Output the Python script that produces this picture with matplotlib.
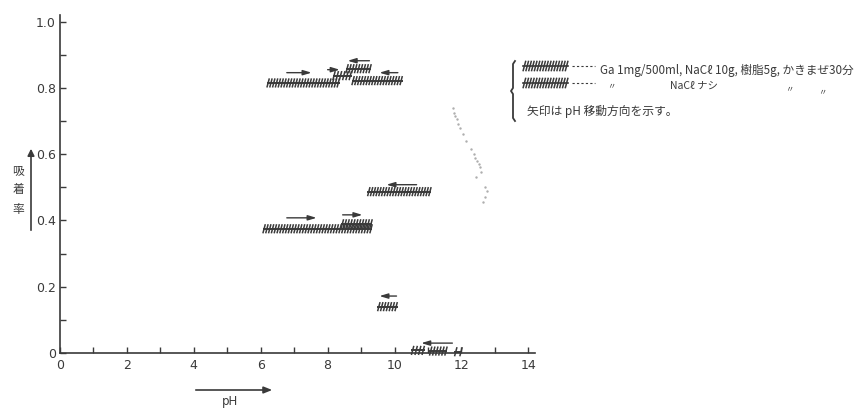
import matplotlib
matplotlib.use("Agg")
import matplotlib.pyplot as plt
from matplotlib import patheffects as pe
from matplotlib.lines import Line2D

plt.rcParams['font.family'] = ['Noto Sans CJK JP', 'DejaVu Sans']

# ---------------- data ----------------
# Hatched (zig-zag) segments: start pH, end pH, adsorption rate
seg_start = [6.18, 8.15, 8.54, 8.72, 6.06, 8.40, 9.19, 9.49, 10.50, 11.04, 11.79]
seg_end   = [8.36, 8.72, 9.31, 10.24, 9.34, 9.34, 11.10, 10.09, 10.90, 11.58, 12.03]
seg_value = [0.815, 0.837, 0.858, 0.822, 0.375, 0.390, 0.487, 0.140, 0.008, 0.006, 0.004]

# Arrows showing direction of pH change: from pH, to pH, level
arrow_from  = [6.78, 8.00, 9.25, 10.10, 6.78, 8.45, 10.66, 10.06, 11.73]
arrow_to    = [7.52, 8.36, 8.60, 9.55, 7.67, 9.04, 9.76, 9.55, 10.80]
arrow_level = [0.846, 0.855, 0.882, 0.846, 0.408, 0.417, 0.508, 0.172, 0.030]

# faint scattered points (pH 12 region)
faint_ph  = [11.75, 11.78, 11.82, 11.86, 11.90, 11.95, 12.05, 12.15, 12.30, 12.38, 12.42,
             12.48, 12.52, 12.56, 12.60, 12.45, 12.70, 12.78, 12.72, 12.66]
faint_val = [0.740, 0.725, 0.715, 0.705, 0.690, 0.680, 0.660, 0.640, 0.615, 0.600, 0.590,
             0.580, 0.570, 0.560, 0.545, 0.530, 0.500, 0.490, 0.470, 0.455]

x_ticks = [0, 2, 4, 6, 8, 10, 12, 14]
x_ticklabels = ["0", "2", "4", "6", "8", "10", "12", "14"]
y_ticks = [0, 0.2, 0.4, 0.6, 0.8, 1.0]
y_ticklabels = ["0", "0.2", "0.4", "0.6", "0.8", "1.0"]

legend_lines = ["Ga 1mg/500ml, NaCℓ 10g, 樹脂5g, かきまぜ30分",
                "NaCℓ ナシ"]
note_text = "矢印は pH 移動方向を示す。"

INK = "#3a3a3a"
W, H = 861, 408

fig = plt.figure(figsize=(W / 100, H / 100), dpi=100)
ax = fig.add_axes([60 / W, 1 - 363 / H, (535 - 60) / W, (363 - 15) / H])
ax.set_xlim(0, 14.2)
ax.set_ylim(-0.03, 1.02)

zig = [pe.TickedStroke(spacing=2.0, angle=75, length=1.7, linewidth=1.1, foreground=INK),
       pe.TickedStroke(spacing=2.0, angle=-105, length=1.7, linewidth=1.1, foreground=INK),
       pe.Normal()]

for x0, x1, v in zip(seg_start, seg_end, seg_value):
    ax.plot([x0, x1], [v, v], color=INK, lw=1.4, solid_capstyle='butt', path_effects=zig, zorder=3)

for a0, a1, lv in zip(arrow_from, arrow_to, arrow_level):
    ax.annotate("", xy=(a1, lv), xytext=(a0, lv),
                arrowprops=dict(arrowstyle="-|>,head_length=0.5,head_width=0.15",
                                color=INK, lw=1.0, shrinkA=0, shrinkB=0))

ax.scatter(faint_ph, faint_val, s=3, color="#9a9a9a", alpha=0.8, linewidths=0, zorder=2)

# axes styling
for s in ["top", "right"]:
    ax.spines[s].set_visible(False)
ax.spines["bottom"].set_position(("data", 0))
ax.spines["left"].set_bounds(0, 1.02)
for s in ["left", "bottom"]:
    ax.spines[s].set_color(INK)
    ax.spines[s].set_linewidth(1.2)

ax.set_xticks(x_ticks)
ax.set_xticklabels(x_ticklabels)
ax.set_xticks(range(0, 15), minor=True)
ax.set_yticks(y_ticks)
ax.set_yticklabels(y_ticklabels)
ax.set_yticks([i / 10 for i in range(0, 11)], minor=True)
ax.tick_params(axis="both", which="both", direction="in", length=4, width=1, color=INK,
               labelsize=9, labelcolor=INK)
ax.tick_params(axis="x", which="major", pad=4)
ax.tick_params(axis="y", which="major", pad=3)
for lab in ax.get_xticklabels() + ax.get_yticklabels():
    lab.set_family("DejaVu Sans")

# y label: stacked characters with upward arrow
fig.text(18 / W, 1 - 190 / H, "吸\n着\n率", ha="center", va="center", fontsize=8.5,
         color=INK, linespacing=1.6)
fig.add_artist(matplotlib.patches.FancyArrowPatch(
    (31 / W, 1 - 233 / H), (31 / W, 1 - 146 / H), transform=fig.transFigure,
    arrowstyle="-|>,head_length=4,head_width=2", color=INK, lw=1.2))

# x label with right arrow
fig.add_artist(matplotlib.patches.FancyArrowPatch(
    (193 / W, 1 - 390 / H), (275 / W, 1 - 390 / H), transform=fig.transFigure,
    arrowstyle="-|>,head_length=5,head_width=2", color=INK, lw=1.2))
fig.text(230 / W, 1 - 402 / H, "pH", ha="center", va="center", fontsize=8.5, color=INK,
         family="DejaVu Sans")

# legend block
brk_x = [515, 513, 513, 511, 513, 513, 515]
brk_y = [61, 64, 88, 91, 94, 118, 121]
fig.add_artist(Line2D([x / W for x in brk_x], [1 - y / H for y in brk_y],
                      transform=fig.transFigure, color=INK, lw=1.3))
for yy in (66, 83):
    fig.add_artist(Line2D([523 / W, 568 / W], [1 - yy / H, 1 - yy / H], transform=fig.transFigure,
                          color=INK, lw=1.2, path_effects=zig))
    fig.add_artist(Line2D([572 / W, 595 / W], [1 - yy / H, 1 - yy / H], transform=fig.transFigure,
                          color=INK, lw=0.8, linestyle=(0, (2, 2))))
fig.text(600 / W, 1 - 70 / H, legend_lines[0], ha="left", va="center", fontsize=8.4, color=INK)
fig.text(607 / W, 1 - 87 / H, "〃", ha="left", va="center", fontsize=6, color=INK)
fig.text(670 / W, 1 - 86 / H, legend_lines[1], ha="left", va="center", fontsize=7.5, color=INK)
fig.text(785 / W, 1 - 90 / H, "〃", ha="left", va="center", fontsize=6, color=INK)
fig.text(818 / W, 1 - 93 / H, "〃", ha="left", va="center", fontsize=6, color=INK)
fig.text(527 / W, 1 - 111 / H, note_text, ha="left", va="center", fontsize=8.5, color=INK)

fig.savefig("out.png", dpi=100, facecolor="white")
